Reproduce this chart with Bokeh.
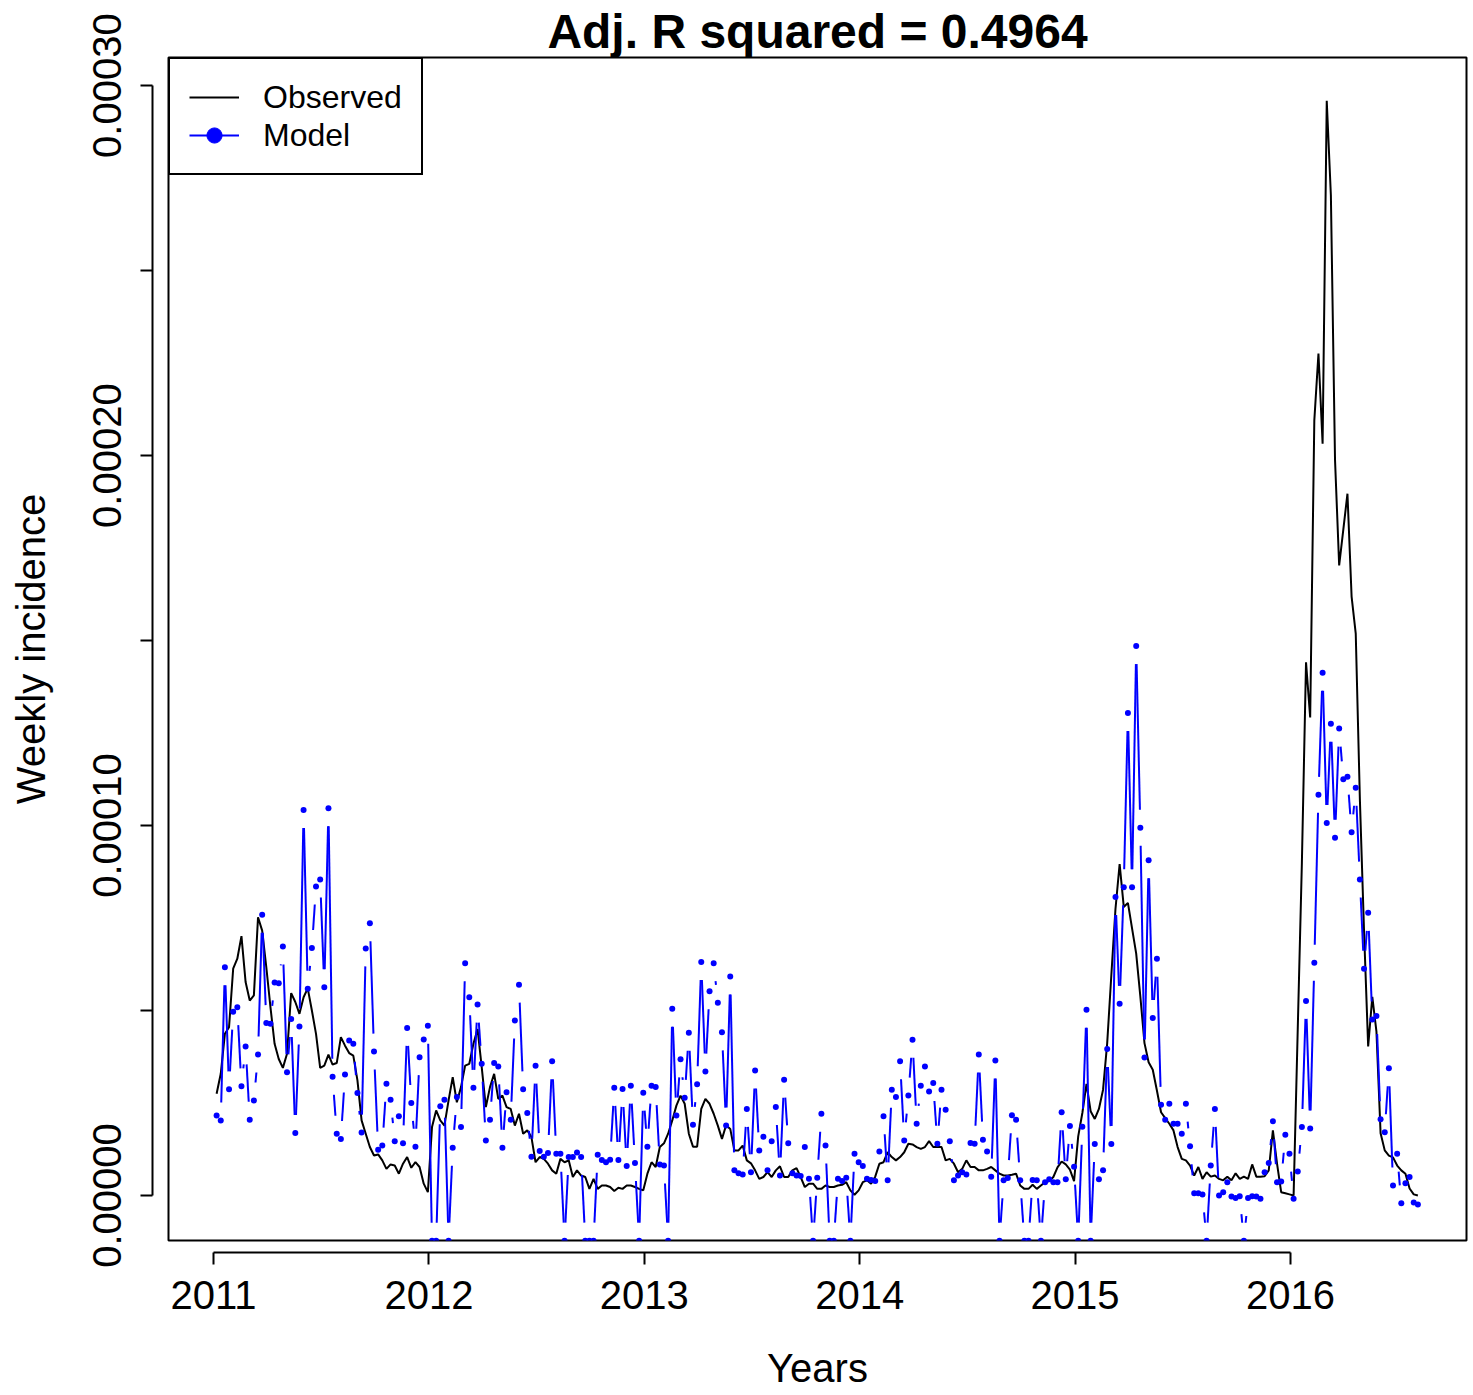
import numpy as np
from bokeh.plotting import figure
from bokeh.models import (Range1d, LinearAxis, FixedTicker, Legend, LegendItem, ColumnDataSource)
from bokeh.embed import file_html
from bokeh.resources import INLINE

# ---------------- data (weekly values, in units of 1e-5) ----------------
UNIT = 1e-5
observed = [
    2.75, 3.29, 4.37, 4.55, 6.13, 6.40, 7.01, 5.77, 5.27, 5.41, 7.52, 7.16, 6.17, 5.09, 4.10, 3.69, 3.45, 3.83, 5.47, 5.23, 4.91, 5.36, 5.60,
    5.00, 4.37, 3.45, 3.51, 3.81, 3.54, 3.58, 4.28, 4.05, 3.85, 3.78, 3.11, 2.03, 1.67, 1.31, 1.08, 1.11, 0.95, 0.72, 0.84, 0.81, 0.59, 0.86, 1.04,
    0.75, 0.90, 0.77, 0.32, 0.09, 1.85, 2.30, 2.03, 1.89, 2.57, 3.20, 2.52, 2.93, 3.51, 3.56, 4.10, 4.50, 3.47, 2.39, 2.93, 3.29, 2.61, 2.70, 2.39, 2.34, 1.89, 2.21,
    1.67, 1.76, 1.58, 0.90, 1.04, 0.99, 0.86, 0.68, 0.59, 0.99, 0.90, 0.95, 0.50, 0.68, 0.54, 0.50, 0.18, 0.45, 0.18, 0.27, 0.27, 0.23, 0.12, 0.21, 0.18,
    0.27, 0.27, 0.23, 0.18, 0.14, 0.59, 0.90, 0.77, 1.31, 1.41, 1.67, 2.03, 2.43, 2.70, 2.48, 1.67, 1.32, 1.32, 2.34, 2.61, 2.48, 2.21, 1.89, 1.53, 1.90, 1.80,
    1.22, 1.22, 1.35, 0.95, 0.87, 0.68, 0.45, 0.50, 0.63, 0.50, 0.68, 0.79, 0.50, 0.50, 0.68, 0.74, 0.50, 0.23, 0.32, 0.32, 0.18, 0.18, 0.27, 0.23, 0.23,
    0.27, 0.29, 0.36, 0.14, 0.02, 0.14, 0.36, 0.41, 0.32, 0.51, 0.86, 0.90, 1.17, 1.04, 0.95, 1.04, 1.17, 1.40, 1.38, 1.31, 1.26, 1.31, 1.47, 1.31, 1.32, 1.31,
    0.95, 0.99, 0.86, 0.63, 0.72, 0.95, 0.77, 0.77, 0.68, 0.68, 0.72, 0.77, 0.68, 0.59, 0.54, 0.54, 0.56, 0.59, 0.27, 0.18, 0.18, 0.29, 0.18, 0.27, 0.36,
    0.39, 0.50, 0.76, 0.92, 0.84, 0.70, 0.39, 1.60, 2.23, 3.02, 2.28, 2.07, 2.34, 2.86, 4.12, 5.96, 7.75, 8.96, 7.80, 7.91, 7.22, 6.54, 5.38, 4.12, 3.60,
    3.40, 2.84, 2.25, 2.09, 1.94, 1.76, 1.31, 0.99, 0.95, 0.81, 0.54, 0.77, 0.45, 0.63, 0.51, 0.54, 0.45, 0.41, 0.51, 0.41,
    0.60, 0.45, 0.51, 0.45, 0.84, 0.51, 0.51, 0.52, 0.68, 1.76, 0.86, 0.09, 0.06,
    0.03, 0.00, 4.50, 9.00, 14.41, 12.92, 20.95, 22.76, 20.32, 29.59, 27.03, 19.88, 17.03, 18.00, 18.97, 16.19, 15.19, 10.70, 7.16, 4.03,
    5.37, 4.43, 1.68, 1.22, 1.08, 1.03, 0.81, 0.68, 0.59, 0.19, 0.03, 0.00,
]
model = [
    2.16, 2.03, 6.17, 2.87, 4.97, 5.09, 2.95, 4.03, 2.05, 2.57, 3.81, 7.59, 4.66, 4.64, 5.76, 5.74, 6.73, 3.33, 4.77, 1.69, 4.57, 10.42, 5.59,
    6.69, 8.35, 8.54, 5.63, 10.47, 3.21, 1.67, 1.53, 3.27, 4.19, 4.10, 2.77, 1.70, 6.68, 7.36, 3.89, 1.24, 1.35, 3.02, 2.59, 1.47, 2.14, 1.41, 4.53, 2.50, 1.32,
    3.74, 4.22, 4.59, -1.22, -1.22, 2.41, 2.59, -1.22, 1.29, 2.66, 1.85, 6.28, 5.36, 2.91, 5.16, 3.56, 1.49, 2.05, 3.58, 3.49, 1.29, 2.79, 2.05, 4.73, 5.70,
    2.87, 2.23, 1.05, 3.51, 1.20, 1.05, 1.15, 3.63, 1.13, 1.13, -1.22, 1.04, 1.04, 1.16, 1.04, -1.22, -1.22, -1.22, 1.10, 0.96, 0.90, 0.97, 2.91, 0.96, 2.88, 0.80,
    2.97, 0.88, -1.22, 2.78, 1.32, 2.97, 2.93, 0.84, 0.81, -1.22, 5.05, 2.16, 3.68, 2.64, 4.40, 1.91, 3.01, 6.31, 3.35, 5.52, 6.28, 5.21, 4.41, 1.89, 5.92,
    0.68, 0.60, 0.57, 2.34, 0.63, 3.38, 1.22, 1.59, 0.68, 1.47, 2.39, 0.54, 3.13, 1.41, 0.60, 0.54, 0.53, 1.31, 0.45, -1.22, 0.48, 2.21, 1.35, -1.22, -1.22, 0.45,
    0.39, 0.48, -1.22, 1.13, 0.90, 0.80, 0.45, 0.42, 0.39, 1.19, 2.14, 0.41, 2.86, 2.66, 3.63, 1.49, 2.70, 4.21, 1.94, 2.97, 3.49, 2.81, 3.04, 1.40, 2.86,
    2.32, 1.47, 0.41, 0.54, 0.63, 0.57, 1.42, 1.40, 3.81, 1.51, 1.19, 0.51, 3.65, -1.22, 0.41, 0.47, 2.17, 2.05, 0.41, -1.22, -1.22, 0.42, 0.41, -1.22, 0.36,
    0.44, 0.36, 0.36, 2.25, 0.44, 1.88, 0.78, -1.22, 1.86, 5.02, -1.22, 1.39, 0.44, 0.68, 3.96, 1.39, 8.07, 5.18, 8.33, 13.04, 8.33, 14.85, 9.94, 3.73, 9.06,
    4.80, 6.40,
    2.45, 2.05, 2.48, 1.94, 1.94, 1.67, 2.48, 1.33, 0.06, 0.06, 0.03, -1.22, 0.81, 2.34, 0.00, 0.09, 0.36, -0.03, -0.07, -0.02,
    -1.22, -0.07, -0.02, -0.03, -0.09, 0.63, 0.88, 2.01, 0.36, 0.38, 1.64,
    1.13, -0.09, 0.65, 1.85, 5.26, 1.81, 6.29, 10.83, 14.13, 10.07, 12.75, 9.67, 12.62, 11.25, 11.32, 9.82, 11.02, 8.54, 6.13, 7.64,
    4.76, 4.85, 2.06, 1.71, 3.44, 0.27, 1.13, -0.21, 0.33, 0.50, -0.19, -0.24,
]
start_year = 2011
year_ticks = [2011, 2012, 2013, 2014, 2015, 2016]
y_ticks = [0.0, 0.00005, 0.00010, 0.00015, 0.00020, 0.00025, 0.00030]
y_tick_labels = ["0.00000", "", "0.00010", "", "0.00020", "", "0.00030"]
title_text = "Adj. R squared = 0.4964"
x_label = "Years"
y_label = "Weekly incidence"
series_names = ["Observed", "Model"]

assert len(observed) == len(model)
n = len(observed)
t = start_year + (np.arange(n) + 0.75) / 52.0
obs = np.array(observed) * UNIT
mod = np.array(model) * UNIT

# ---------------- layout ----------------
FONT = "Liberation Sans"
FW, FH = 1298, 1183
X0 = 2010.7911
X1 = X0 + FW / 215.4
Y0, Y1 = -1.216e-5, 30.76e-5

p = figure(frame_width=FW, frame_height=FH,
           x_range=Range1d(X0, X1), y_range=Range1d(Y0, Y1),
           output_backend="svg", toolbar_location=None,
           x_axis_location=None, y_axis_location=None,
           min_border_left=168, min_border_top=57, min_border_right=6,
           min_border_bottom=150, title=title_text)
p.outline_line_color = "black"
p.outline_line_width = 2
p.outline_line_alpha = 1.0
p.background_fill_color = "white"
p.border_fill_color = "white"
p.xgrid.visible = False
p.ygrid.visible = False

p.title.align = "center"
p.title.text_font = FONT
p.title.text_font_size = "48px"
p.title.text_font_style = "bold"
p.title.text_color = "black"
p.title.standoff = 0
p.title.offset = 6


def spacer(size, tick):
    # an empty axis that only pushes the real axis away from the plot box (as R does)
    return LinearAxis(ticker=FixedTicker(ticks=[tick]), axis_line_color=None,
                      major_tick_out=size, major_tick_in=-4,
                      minor_tick_out=0, minor_tick_in=0,
                      major_tick_line_color="white", major_tick_line_width=1,
                      major_label_overrides={tick: ""},
                      major_label_standoff=0, major_label_text_font_size="1px",
                      major_label_text_color="white")


p.add_layout(spacer(12, 2013.5), "below")
p.add_layout(spacer(16, 0.000175), "left")

xaxis = LinearAxis(ticker=FixedTicker(ticks=year_ticks), bounds=(year_ticks[0], year_ticks[-1]),
                   major_label_overrides={y: str(y) for y in year_ticks},
                   axis_label=x_label)
yaxis = LinearAxis(ticker=FixedTicker(ticks=y_ticks), bounds=(y_ticks[0], y_ticks[-1]),
                   major_label_overrides={v: s for v, s in zip(y_ticks, y_tick_labels)},
                   major_label_orientation="vertical",
                   axis_label=y_label)
for ax in (xaxis, yaxis):
    ax.axis_line_color = "black"
    ax.axis_line_width = 2
    ax.major_tick_line_color = "black"
    ax.major_tick_line_width = 2
    ax.major_tick_out = 12
    ax.major_tick_in = 0
    ax.minor_tick_out = 0
    ax.minor_tick_in = 0
    ax.major_label_text_font = FONT
    ax.major_label_text_font_size = "40px"
    ax.major_label_text_color = "black"
    ax.axis_label_text_font = FONT
    ax.axis_label_text_font_size = "40px"
    ax.axis_label_text_font_style = "normal"
    ax.axis_label_text_color = "black"
xaxis.major_label_standoff = 16
xaxis.axis_label_standoff = 34
yaxis.major_label_standoff = 19
yaxis.axis_label_standoff = 38
p.add_layout(xaxis, "below")
p.add_layout(yaxis, "left")

# ---------------- observed ----------------
p.line(t, obs, line_color="black", line_width=2)

# ---------------- model: R type="b" (segments with gaps around points) ----------------
GAP = 18.0
kx = FW / (X1 - X0)
ky = FH / (Y1 - Y0)
sx0, sy0, sx1, sy1 = [], [], [], []
for i in range(n - 1):
    dx = (t[i + 1] - t[i]) * kx
    dy = (mod[i + 1] - mod[i]) * ky
    L = float(np.hypot(dx, dy))
    if L > 2 * GAP:
        f = GAP / L
        sx0.append(t[i] + f * (t[i + 1] - t[i]))
        sy0.append(mod[i] + f * (mod[i + 1] - mod[i]))
        sx1.append(t[i + 1] - f * (t[i + 1] - t[i]))
        sy1.append(mod[i + 1] - f * (mod[i + 1] - mod[i]))
p.segment(sx0, sy0, sx1, sy1, line_color="blue", line_width=2)
p.scatter(t, mod, size=6, fill_color="blue", line_color="blue", line_width=0)

# ---------------- legend (proxy glyphs placed outside the visible range) ----------------
far = ColumnDataSource(data=dict(x=[1990.0, 1991.0], y=[0.0, 0.0]))
lg_obs = p.line("x", "y", source=far, line_color="black", line_width=2)
lg_mod_l = p.line("x", "y", source=far, line_color="blue", line_width=2)
lg_mod_p = p.scatter("x", "y", source=far, size=13, fill_color="blue", line_color="blue")
legend = Legend(items=[LegendItem(label=series_names[0], renderers=[lg_obs]),
                       LegendItem(label=series_names[1], renderers=[lg_mod_l, lg_mod_p])],
                location="top_left", margin=0, padding=19, spacing=0,
                label_height=38, glyph_height=38, glyph_width=50, label_standoff=24,
                label_text_font=FONT, label_text_font_size="32px", label_text_color="black",
                border_line_color="black", border_line_width=2, border_line_alpha=1.0,
                background_fill_color="white", background_fill_alpha=1.0)
p.add_layout(legend)

open("out.html", "w").write(file_html(p, INLINE))
